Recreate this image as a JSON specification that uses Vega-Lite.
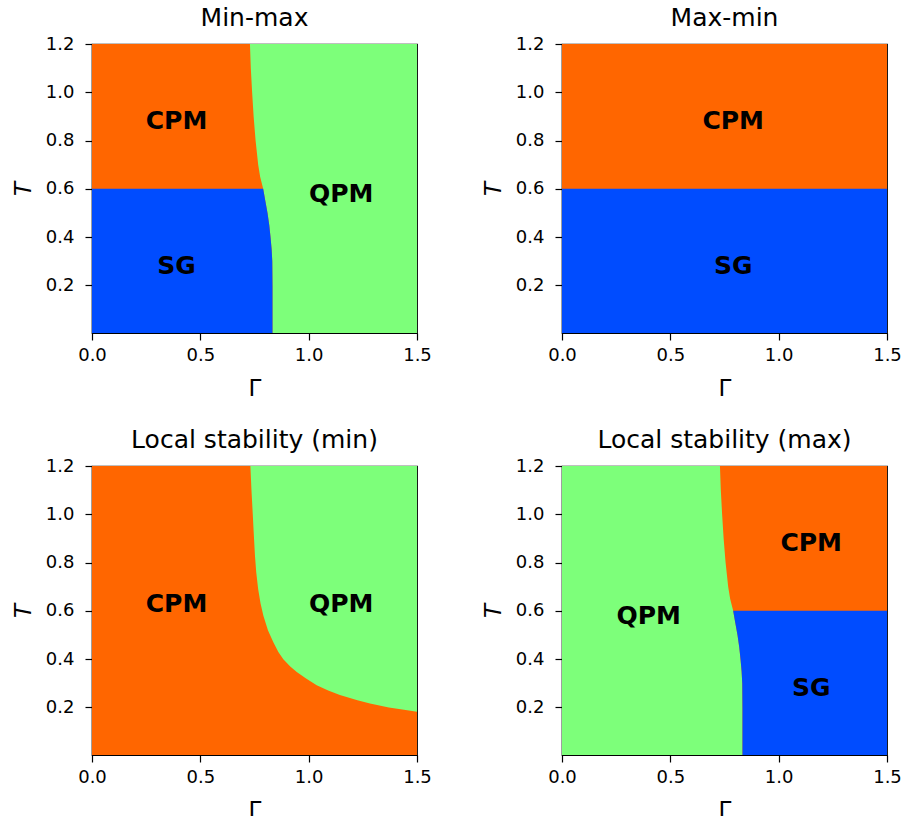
{
  "$schema": "https://vega.github.io/schema/vega-lite/v6.json",
  "background": "white",
  "padding": {"left": 11, "top": 5, "right": 5, "bottom": 5},
  "config": {
    "font": "DejaVu Sans",
    "view": {"stroke": "black", "strokeWidth": 1.2},
    "axis": {
      "domainColor": "black", "domainWidth": 1.2, "tickColor": "black", "tickWidth": 1.2, "tickSize": 7,
      "labelColor": "black", "titleColor": "black",
      "labelFont": "DejaVu Sans", "titleFont": "DejaVu Sans",
      "labelFontSize": 18, "titleFontSize": 23, "titleFontWeight": "normal",
      "grid": false, "labelPadding": 5, "labelFlush": false, "labelOverlap": false
    },
    "axisX": {"titlePadding": 13, "labelPadding": 6},
    "axisY": {"titlePadding": 10, "labelPadding": 11},
    "title": {"font": "DejaVu Sans", "fontSize": 25, "fontWeight": "normal", "color": "black", "baseline": "alphabetic", "offset": 4}
  },
  "datasets": {
    "reg": [
      {"g": "full", "T": 0, "a": 0, "b": 1.5}, {"g": "full", "T": 1.2, "a": 0, "b": 1.5},
      {"g": "low", "T": 0, "a": 0, "b": 1.5}, {"g": "low", "T": 0.6, "a": 0, "b": 1.5},

      {"g": "L", "T": 0, "a": 0, "b": 0.833}, {"g": "L", "T": 0.2, "a": 0, "b": 0.833}, {"g": "L", "T": 0.3, "a": 0, "b": 0.832},
      {"g": "L", "T": 0.35, "a": 0, "b": 0.829}, {"g": "L", "T": 0.4, "a": 0, "b": 0.824}, {"g": "L", "T": 0.45, "a": 0, "b": 0.818},
      {"g": "L", "T": 0.5, "a": 0, "b": 0.81}, {"g": "L", "T": 0.55, "a": 0, "b": 0.8}, {"g": "L", "T": 0.6, "a": 0, "b": 0.79},
      {"g": "L", "T": 0.65, "a": 0, "b": 0.776}, {"g": "L", "T": 0.7, "a": 0, "b": 0.767}, {"g": "L", "T": 0.8, "a": 0, "b": 0.755},
      {"g": "L", "T": 0.9, "a": 0, "b": 0.746}, {"g": "L", "T": 1.0, "a": 0, "b": 0.739}, {"g": "L", "T": 1.1, "a": 0, "b": 0.733},
      {"g": "L", "T": 1.2, "a": 0, "b": 0.729},

      {"g": "Ll", "T": 0, "a": 0, "b": 0.833}, {"g": "Ll", "T": 0.2, "a": 0, "b": 0.833}, {"g": "Ll", "T": 0.3, "a": 0, "b": 0.832},
      {"g": "Ll", "T": 0.35, "a": 0, "b": 0.829}, {"g": "Ll", "T": 0.4, "a": 0, "b": 0.824}, {"g": "Ll", "T": 0.45, "a": 0, "b": 0.818},
      {"g": "Ll", "T": 0.5, "a": 0, "b": 0.81}, {"g": "Ll", "T": 0.55, "a": 0, "b": 0.8}, {"g": "Ll", "T": 0.6, "a": 0, "b": 0.79},

      {"g": "R", "T": 0, "a": 0.833, "b": 1.5}, {"g": "R", "T": 0.2, "a": 0.833, "b": 1.5}, {"g": "R", "T": 0.3, "a": 0.832, "b": 1.5},
      {"g": "R", "T": 0.35, "a": 0.829, "b": 1.5}, {"g": "R", "T": 0.4, "a": 0.824, "b": 1.5}, {"g": "R", "T": 0.45, "a": 0.818, "b": 1.5},
      {"g": "R", "T": 0.5, "a": 0.81, "b": 1.5}, {"g": "R", "T": 0.55, "a": 0.8, "b": 1.5}, {"g": "R", "T": 0.6, "a": 0.79, "b": 1.5},
      {"g": "R", "T": 0.65, "a": 0.776, "b": 1.5}, {"g": "R", "T": 0.7, "a": 0.767, "b": 1.5}, {"g": "R", "T": 0.8, "a": 0.755, "b": 1.5},
      {"g": "R", "T": 0.9, "a": 0.746, "b": 1.5}, {"g": "R", "T": 1.0, "a": 0.739, "b": 1.5}, {"g": "R", "T": 1.1, "a": 0.733, "b": 1.5},
      {"g": "R", "T": 1.2, "a": 0.729, "b": 1.5},

      {"g": "Rl", "T": 0, "a": 0.833, "b": 1.5}, {"g": "Rl", "T": 0.2, "a": 0.833, "b": 1.5}, {"g": "Rl", "T": 0.3, "a": 0.832, "b": 1.5},
      {"g": "Rl", "T": 0.35, "a": 0.829, "b": 1.5}, {"g": "Rl", "T": 0.4, "a": 0.824, "b": 1.5}, {"g": "Rl", "T": 0.45, "a": 0.818, "b": 1.5},
      {"g": "Rl", "T": 0.5, "a": 0.81, "b": 1.5}, {"g": "Rl", "T": 0.55, "a": 0.8, "b": 1.5}, {"g": "Rl", "T": 0.6, "a": 0.79, "b": 1.5},

      {"g": "S3", "T": 0.182, "a": 1.5, "b": 1.5}, {"g": "S3", "T": 0.19, "a": 1.44, "b": 1.5}, {"g": "S3", "T": 0.2, "a": 1.37, "b": 1.5},
      {"g": "S3", "T": 0.216, "a": 1.283, "b": 1.5}, {"g": "S3", "T": 0.23, "a": 1.225, "b": 1.5}, {"g": "S3", "T": 0.251, "a": 1.144, "b": 1.5},
      {"g": "S3", "T": 0.27, "a": 1.09, "b": 1.5}, {"g": "S3", "T": 0.292, "a": 1.037, "b": 1.5}, {"g": "S3", "T": 0.32, "a": 0.988, "b": 1.5},
      {"g": "S3", "T": 0.347, "a": 0.945, "b": 1.5}, {"g": "S3", "T": 0.37, "a": 0.915, "b": 1.5}, {"g": "S3", "T": 0.4, "a": 0.883, "b": 1.5},
      {"g": "S3", "T": 0.43, "a": 0.86, "b": 1.5}, {"g": "S3", "T": 0.47, "a": 0.837, "b": 1.5}, {"g": "S3", "T": 0.52, "a": 0.812, "b": 1.5},
      {"g": "S3", "T": 0.58, "a": 0.791, "b": 1.5}, {"g": "S3", "T": 0.63, "a": 0.778, "b": 1.5}, {"g": "S3", "T": 0.69, "a": 0.767, "b": 1.5},
      {"g": "S3", "T": 0.76, "a": 0.758, "b": 1.5}, {"g": "S3", "T": 0.83, "a": 0.752, "b": 1.5}, {"g": "S3", "T": 0.93, "a": 0.746, "b": 1.5},
      {"g": "S3", "T": 1.0, "a": 0.742, "b": 1.5}, {"g": "S3", "T": 1.1, "a": 0.736, "b": 1.5}, {"g": "S3", "T": 1.2, "a": 0.731, "b": 1.5}
    ],
    "labels": [
      {"p": "Min-max", "label": "CPM", "a": 0.39, "T": 0.88},
      {"p": "Min-max", "label": "SG", "a": 0.39, "T": 0.28},
      {"p": "Min-max", "label": "QPM", "a": 1.15, "T": 0.58},
      {"p": "Max-min", "label": "CPM", "a": 0.79, "T": 0.88},
      {"p": "Max-min", "label": "SG", "a": 0.79, "T": 0.28},
      {"p": "LSmin", "label": "CPM", "a": 0.39, "T": 0.63},
      {"p": "LSmin", "label": "QPM", "a": 1.15, "T": 0.63},
      {"p": "LSmax", "label": "CPM", "a": 1.15, "T": 0.88},
      {"p": "LSmax", "label": "SG", "a": 1.15, "T": 0.28},
      {"p": "LSmax", "label": "QPM", "a": 0.4, "T": 0.58}
    ]
  },
  "columns": 2,
  "spacing": {"row": 133, "column": 145},
  "bounds": "flush",
  "concat": [
    {
      "title": "Min-max",
      "width": 325, "height": 289,
      "encoding": {
        "x": {"field": "a", "type": "quantitative", "scale": {"domain": [0, 1.5], "nice": false, "zero": false}, "axis": {"title": "Γ", "values": [0, 0.5, 1, 1.5], "format": ".1f"}},
        "y": {"field": "T", "type": "quantitative", "scale": {"domain": [0.003, 1.2], "nice": false, "zero": false}, "axis": {"title": "T", "titleFontStyle": "italic", "values": [0.2, 0.4, 0.6, 0.8, 1.0, 1.2], "format": ".1f"}}
      },
      "layer": [
        {"data": {"name": "reg"}, "transform": [{"filter": "datum.g === 'full'"}], "mark": {"type": "area", "orient": "horizontal", "color": "#7dff7a", "clip": true}, "encoding": {"x2": {"field": "b"}}},
        {"data": {"name": "reg"}, "transform": [{"filter": "datum.g === 'L'"}], "mark": {"type": "area", "orient": "horizontal", "color": "#ff6600", "clip": true}, "encoding": {"x2": {"field": "b"}}},
        {"data": {"name": "reg"}, "transform": [{"filter": "datum.g === 'Ll'"}], "mark": {"type": "area", "orient": "horizontal", "color": "#004cff", "clip": true}, "encoding": {"x2": {"field": "b"}}},
        {"data": {"name": "labels"}, "transform": [{"filter": "datum.p === 'Min-max'"}], "mark": {"type": "text", "font": "DejaVu Sans", "fontSize": 25, "fontWeight": "bold", "color": "black", "baseline": "middle"}, "encoding": {"text": {"field": "label"}}}
      ]
    },
    {
      "title": "Max-min",
      "width": 325, "height": 289,
      "encoding": {
        "x": {"field": "a", "type": "quantitative", "scale": {"domain": [0, 1.5], "nice": false, "zero": false}, "axis": {"title": "Γ", "values": [0, 0.5, 1, 1.5], "format": ".1f"}},
        "y": {"field": "T", "type": "quantitative", "scale": {"domain": [0.003, 1.2], "nice": false, "zero": false}, "axis": {"title": "T", "titleFontStyle": "italic", "values": [0.2, 0.4, 0.6, 0.8, 1.0, 1.2], "format": ".1f"}}
      },
      "layer": [
        {"data": {"name": "reg"}, "transform": [{"filter": "datum.g === 'full'"}], "mark": {"type": "area", "orient": "horizontal", "color": "#ff6600", "clip": true}, "encoding": {"x2": {"field": "b"}}},
        {"data": {"name": "reg"}, "transform": [{"filter": "datum.g === 'low'"}], "mark": {"type": "area", "orient": "horizontal", "color": "#004cff", "clip": true}, "encoding": {"x2": {"field": "b"}}},
        {"data": {"name": "labels"}, "transform": [{"filter": "datum.p === 'Max-min'"}], "mark": {"type": "text", "font": "DejaVu Sans", "fontSize": 25, "fontWeight": "bold", "color": "black", "baseline": "middle"}, "encoding": {"text": {"field": "label"}}}
      ]
    },
    {
      "title": "Local stability (min)",
      "width": 325, "height": 289,
      "encoding": {
        "x": {"field": "a", "type": "quantitative", "scale": {"domain": [0, 1.5], "nice": false, "zero": false}, "axis": {"title": "Γ", "values": [0, 0.5, 1, 1.5], "format": ".1f"}},
        "y": {"field": "T", "type": "quantitative", "scale": {"domain": [0.003, 1.2], "nice": false, "zero": false}, "axis": {"title": "T", "titleFontStyle": "italic", "values": [0.2, 0.4, 0.6, 0.8, 1.0, 1.2], "format": ".1f"}}
      },
      "layer": [
        {"data": {"name": "reg"}, "transform": [{"filter": "datum.g === 'full'"}], "mark": {"type": "area", "orient": "horizontal", "color": "#ff6600", "clip": true}, "encoding": {"x2": {"field": "b"}}},
        {"data": {"name": "reg"}, "transform": [{"filter": "datum.g === 'S3'"}], "mark": {"type": "area", "orient": "horizontal", "color": "#7dff7a", "clip": true}, "encoding": {"x2": {"field": "b"}}},
        {"data": {"name": "labels"}, "transform": [{"filter": "datum.p === 'LSmin'"}], "mark": {"type": "text", "font": "DejaVu Sans", "fontSize": 25, "fontWeight": "bold", "color": "black", "baseline": "middle"}, "encoding": {"text": {"field": "label"}}}
      ]
    },
    {
      "title": "Local stability (max)",
      "width": 325, "height": 289,
      "encoding": {
        "x": {"field": "a", "type": "quantitative", "scale": {"domain": [0, 1.5], "nice": false, "zero": false}, "axis": {"title": "Γ", "values": [0, 0.5, 1, 1.5], "format": ".1f"}},
        "y": {"field": "T", "type": "quantitative", "scale": {"domain": [0.003, 1.2], "nice": false, "zero": false}, "axis": {"title": "T", "titleFontStyle": "italic", "values": [0.2, 0.4, 0.6, 0.8, 1.0, 1.2], "format": ".1f"}}
      },
      "layer": [
        {"data": {"name": "reg"}, "transform": [{"filter": "datum.g === 'full'"}], "mark": {"type": "area", "orient": "horizontal", "color": "#7dff7a", "clip": true}, "encoding": {"x2": {"field": "b"}}},
        {"data": {"name": "reg"}, "transform": [{"filter": "datum.g === 'R'"}], "mark": {"type": "area", "orient": "horizontal", "color": "#ff6600", "clip": true}, "encoding": {"x2": {"field": "b"}}},
        {"data": {"name": "reg"}, "transform": [{"filter": "datum.g === 'Rl'"}], "mark": {"type": "area", "orient": "horizontal", "color": "#004cff", "clip": true}, "encoding": {"x2": {"field": "b"}}},
        {"data": {"name": "labels"}, "transform": [{"filter": "datum.p === 'LSmax'"}], "mark": {"type": "text", "font": "DejaVu Sans", "fontSize": 25, "fontWeight": "bold", "color": "black", "baseline": "middle"}, "encoding": {"text": {"field": "label"}}}
      ]
    }
  ]
}
